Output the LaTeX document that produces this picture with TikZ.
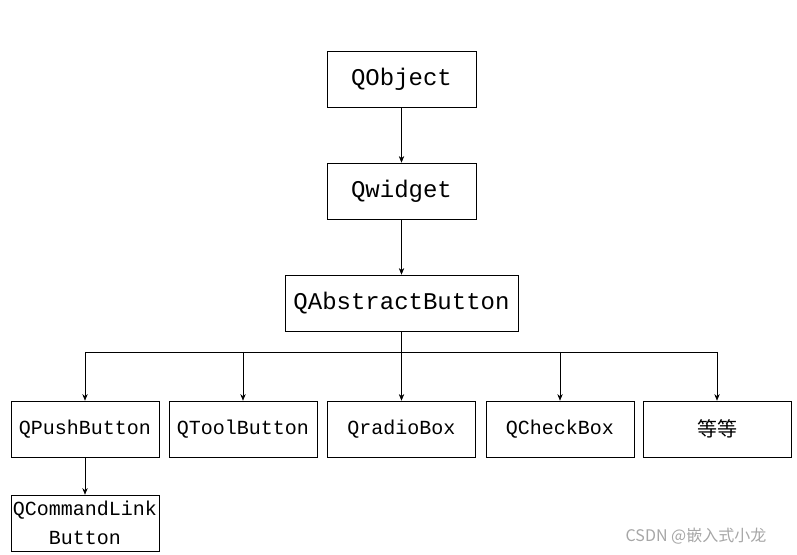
\documentclass[tikz,border=0pt]{standalone}
\usepackage{fontspec}
\setmonofont{Liberation Mono}
\newfontfamily\cjk{Noto Sans CJK SC}
\usetikzlibrary{arrows.meta}
\tikzset{
	cls/.style={draw, rectangle, inner sep=0pt, font=\ttfamily\fontsize{15}{17}\selectfont},
	big/.style={cls, minimum width=111.75pt, minimum height=42pt, font=\ttfamily\fontsize{18}{20}\selectfont},
	sub/.style={cls, minimum width=111pt, minimum height=42pt},
	inh/.style={-{Stealth[length=5pt, width=4pt]}, thin}
}
\begin{document}
\begin{tikzpicture}[x=0.75pt, y=-0.75pt]
	\useasboundingbox (0, 0) rectangle (797, 555);

	% Define the nodes with specific positions
	\node[big] (obj) at (401.5, 79) {QObject};
	\node[big] (wid) at (401.5, 191) {Qwidget};
	\node[big, minimum width=174.75pt] (abs) at (401.5, 303) {QAbstractButton};

	\node[sub] (push) at (85, 429) {QPushButton};
	\node[sub] (tool) at (243, 429) {QToolButton};
	\node[sub] (radio) at (401.5, 429) {QradioBox};
	\node[sub] (check) at (560, 429) {QCheckBox};
	\node[sub] (etc) at (717, 429) {\cjk 等等};
	\node[sub, align=center, font=\ttfamily\fontsize{15}{22}\selectfont] (link) at (85, 523) {QCommandLink\\Button};

	% Bus points above the lower row
	\coordinate (bmid) at (401.5, 352);
	\coordinate (b1) at (85, 352);
	\coordinate (b2) at (243, 352);
	\coordinate (b4) at (560, 352);
	\coordinate (b5) at (717, 352);

	% Draw the edges between nodes
	\draw[inh] (obj) -- (wid);
	\draw[inh] (wid) -- (abs);
	\draw (abs) -- (bmid);
	\draw (b1) -- (b5);
	\draw[inh] (b1) -- (push);
	\draw[inh] (b2) -- (tool);
	\draw[inh] (bmid) -- (radio);
	\draw[inh] (b4) -- (check);
	\draw[inh] (b5) -- (etc);
	\draw[inh] (push) -- (link);

	\node[text=gray!70, font=\fontsize{12}{14}\selectfont] (mark) at (696, 536) {\cjk CSDN @嵌入式小龙};
\end{tikzpicture}
\end{document}
